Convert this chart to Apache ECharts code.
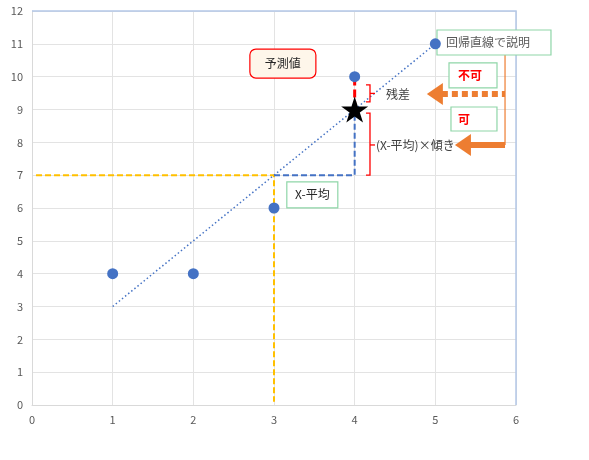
<!DOCTYPE html>
<html>
<head>
<meta charset="utf-8">
<script src="https://cdn.jsdelivr.net/npm/echarts@6/dist/echarts.min.js"></script>
<style>
  html, body { margin: 0; padding: 0; background: #fff; }
  #chart { width: 589px; height: 460px; }
</style>
</head>
<body>
<div id="chart"></div>
<script>
// observed points
const pointsX = [1, 2, 3, 4, 5];
const pointsY = [4, 4, 6, 10, 11];
// regression line end points
const trendLine = [[1, 3], [5, 11]];
// means (x = 3, y = 7)
const meanPath = [[0.05, 7], [3, 7], [3, 0.1]];
// (X - mean) x slope leg
const slopePath = [[3, 7], [4, 7], [4, 9]];
// residual leg
const residualPath = [[4, 9], [4, 10]];
// predicted value
const predicted = [[4, 9]];

const xTicks = { min: 0, max: 6, interval: 1 };
const yTicks = { min: 0, max: 12, interval: 1 };

const FONT = '"Noto Sans CJK JP", "Noto Sans", sans-serif';
const STAR = 'path://M50,0 L61.8,36.2 L100,36.2 L69.1,58.6 L80.9,95.1 L50,72.7 L19.1,95.1 L30.9,58.6 L0,36.2 L38.2,36.2 Z';

const chart = echarts.init(document.getElementById('chart'), null, { renderer: 'canvas' });

const axisCommon = {
    type: 'value',
    axisLine: { show: true, lineStyle: { color: '#d9d9d9', width: 1 } },
    axisTick: { show: false },
    axisLabel: { color: '#595959', fontSize: 11, fontFamily: FONT, margin: 9 },
    splitLine: { show: true, lineStyle: { color: '#e3e3e3', width: 1 } }
};

chart.setOption({
    animation: false,
    backgroundColor: '#ffffff',
    grid: { left: 32, right: 73, top: 11, bottom: 55, containLabel: false },
    xAxis: Object.assign({}, axisCommon, xTicks),
    yAxis: Object.assign({}, axisCommon, yTicks),
    series: [
        {
            type: 'line',
            data: meanPath,
            symbol: 'none',
            lineStyle: { color: '#ffc000', width: 2, type: [6, 3] },
            z: 2
        },
        {
            type: 'line',
            data: slopePath,
            symbol: 'none',
            lineStyle: { color: '#4472c4', width: 2, type: [6, 3] },
            z: 2
        },
        {
            type: 'line',
            data: residualPath,
            symbol: 'none',
            lineStyle: { color: '#ff0000', width: 3, type: [8, 4] },
            z: 2
        },
        {
            type: 'line',
            data: trendLine,
            symbol: 'none',
            lineStyle: { color: '#4472c4', width: 1.5, type: [1.5, 2.5] },
            z: 3
        },
        {
            type: 'scatter',
            data: pointsX.map((x, i) => [x, pointsY[i]]),
            symbol: 'circle',
            symbolSize: 11,
            itemStyle: { color: '#4472c4', opacity: 1 },
            z: 20
        },
        {
            type: 'scatter',
            data: predicted,
            symbol: STAR,
            symbolSize: [27, 26],
            itemStyle: { color: '#000000', opacity: 1 },
            z: 20
        }
    ]
});

// annotations anchored in data space
const px = (x, y) => chart.convertToPixel({ gridIndex: 0 }, [x, y]);
const graphics = [];

function box(cx, cy, w, h, text, opts) {
    const c = px(cx, cy);
    graphics.push({
        type: 'rect',
        shape: { x: c[0] - w / 2, y: c[1] - h / 2, width: w, height: h, r: opts.r || 0 },
        style: { fill: opts.fill || '#ffffff', stroke: opts.stroke, lineWidth: 1.2 },
        z: 10
    });
    graphics.push({
        type: 'text',
        x: opts.align === 'left' ? c[0] - w / 2 + (opts.pad || 8) : c[0],
        y: c[1],
        style: {
            text: text,
            fill: opts.color || '#262626',
            font: (opts.bold ? 'bold ' : '') + (opts.size || 12) + 'px ' + FONT,
            textAlign: opts.align || 'center',
            textVerticalAlign: 'middle'
        },
        z: 11
    });
}

function label(x, y, text) {
    const c = px(x, y);
    graphics.push({
        type: 'text', x: c[0], y: c[1],
        style: { text: text, fill: '#404040', font: '12px ' + FONT, textAlign: 'left', textVerticalAlign: 'middle' },
        z: 11
    });
}

function bracket(x, y0, y1, ym) {
    const top = px(x, y1), bot = px(x, y0), mid = px(x, ym);
    graphics.push({
        type: 'polyline',
        shape: { points: [[top[0] - 4, top[1]], top, bot, [bot[0] - 4, bot[1]]] },
        style: { stroke: '#ff0000', lineWidth: 1.3, fill: null },
        z: 10
    });
    graphics.push({
        type: 'line',
        shape: { x1: mid[0], y1: mid[1], x2: mid[0] + 5, y2: mid[1] },
        style: { stroke: '#ff0000', lineWidth: 1.3 },
        z: 10
    });
}

function arrow(xTip, xEnd, y, dotted) {
    const tip = px(xTip, y), end = px(xEnd, y);
    const headLen = 16, headHalf = 11;
    graphics.push({
        type: 'line',
        shape: { x1: tip[0] + headLen - 1, y1: tip[1], x2: end[0], y2: end[1] },
        style: { stroke: '#ed7d31', lineWidth: 6, lineDash: dotted ? [6, 4] : null },
        z: 10
    });
    graphics.push({
        type: 'polygon',
        shape: { points: [tip, [tip[0] + headLen, tip[1] - headHalf], [tip[0] + headLen, tip[1] + headHalf]] },
        style: { fill: '#ed7d31' },
        z: 10
    });
}

// plot border on top and right
const tl = px(0, 12), tr = px(6, 12), br = px(6, 0);
graphics.push({
    type: 'polyline',
    shape: { points: [tl, tr, br] },
    style: { stroke: '#b4c7e7', lineWidth: 1.5, fill: null },
    z: 1
});

// orange connector from the explanation box
const c1 = px(5.864, 10.66), c2 = px(5.864, 7.92);
graphics.push({
    type: 'line',
    shape: { x1: c1[0], y1: c1[1], x2: c2[0], y2: c2[1] },
    style: { stroke: '#ed7d31', lineWidth: 1.2 },
    z: 9
});
arrow(4.895, 5.864, 9.47, true);
arrow(5.243, 5.864, 7.92, false);

bracket(4.19, 9.23, 9.75, 9.49);
bracket(4.19, 7.0, 8.89, 7.92);

label(4.387, 9.47, '残差');
label(4.263, 7.92, '(X-平均)×傾き');

box(3.11, 10.40, 66, 29, '予測値', { stroke: '#ff0000', fill: '#fef6ea', r: 6, color: '#262626' });
box(5.727, 11.04, 114, 25, '回帰直線で説明', { stroke: '#8fd6a8', color: '#595959', align: 'left', pad: 9, size: 12 });
box(5.467, 10.04, 48, 25, '不可', { stroke: '#8fd6a8', color: '#ff0000', align: 'left', pad: 9, bold: true });
box(5.479, 8.71, 46, 24, '可', { stroke: '#8fd6a8', color: '#ff0000', align: 'left', pad: 7, bold: true });
box(3.475, 6.40, 51, 26, 'X-平均', { stroke: '#8fd6a8', color: '#262626' });

chart.setOption({ graphic: graphics });
</script>
</body>
</html>
